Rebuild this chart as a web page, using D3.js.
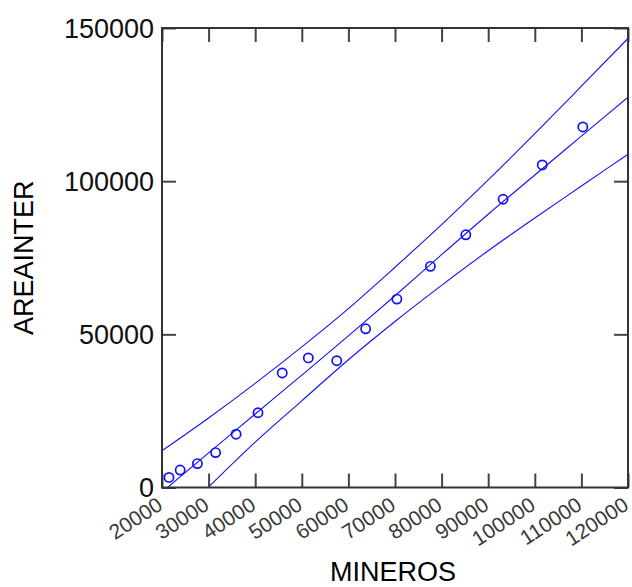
<!DOCTYPE html>
<html><head><meta charset="utf-8">
<script src="https://cdn.jsdelivr.net/npm/d3@7"></script>
<style>body{margin:0;background:#fff}svg{display:block}</style>
</head><body>
<script>
// Data
const mineros   = [21500, 23900, 27600, 31500, 35900, 40600, 45800, 51400, 57500, 63700, 70400, 77600, 85200, 93200, 101600, 110300];
const areainter = [3300, 5700, 7800, 11400, 17400, 24400, 37400, 42300, 41400, 51800, 61500, 72200, 82500, 94100, 105300, 117700];

const fitX   = [20000, 30000, 40000, 50000, 60000, 70000, 80000, 90000, 100000, 110000, 120000];
const fitY   = [-1500, 11300, 24000, 36700, 49500, 62600, 76000, 89200, 102000, 114700, 127400];
const upperX = [20000, 30000, 40000, 50000, 60000, 70000, 80000, 90000, 100000, 110000, 120000];
const upperY = [12000, 22700, 34000, 45900, 58400, 71900, 85800, 100400, 115500, 131000, 146600];
const lowerX = [29900, 40000, 50000, 60000, 70000, 80000, 90000, 100000, 110000, 120000];
const lowerY = [0, 14800, 28300, 41700, 54200, 66000, 77300, 88000, 98400, 108800];

const xTicks = [20000, 30000, 40000, 50000, 60000, 70000, 80000, 90000, 100000, 110000, 120000];
const yTicks = [0, 50000, 100000, 150000];
const xTitle = "MINEROS";
const yTitle = "AREAINTER";

const W = 632, H = 587;
const L = 162, R = 628, T = 28, B = 487.5;
const svg = d3.select("body").append("svg").attr("width", W).attr("height", H);
const x = d3.scaleLinear().domain([20000, 120000]).range([L, R]);
const y = d3.scaleLinear().domain([0, 150000]).range([B, T]);

const font = "'Liberation Sans', Arial, sans-serif";
const blue = "#1010ff";

svg.append("clipPath").attr("id", "clip").append("rect")
  .attr("x", L).attr("y", T).attr("width", R - L).attr("height", B - T);

const g = svg.append("g").attr("clip-path", "url(#clip)");
const line = d3.line().x(d => x(d[0])).y(d => y(d[1])).curve(d3.curveMonotoneX);
[[upperX, upperY], [fitX, fitY], [lowerX, lowerY]].forEach(([xs, ys]) => {
  g.append("path").datum(xs.map((v, i) => [v, ys[i]]))
    .attr("d", line).attr("fill", "none").attr("stroke", blue).attr("stroke-width", 1.1);
});

svg.append("g").selectAll("circle").data(mineros).join("circle")
  .attr("cx", d => x(d)).attr("cy", (d, i) => y(areainter[i]))
  .attr("r", 4.6).attr("fill", "none").attr("stroke", blue).attr("stroke-width", 1.7);

// Axes (ticks inside on all four sides)
const tl = 14, axCol = "#333";
const axB = svg.append("g").attr("transform", `translate(0,${B})`)
  .call(d3.axisBottom(x).tickValues(xTicks).tickSize(-tl).tickFormat(""));
const axT = svg.append("g").attr("transform", `translate(0,${T})`)
  .call(d3.axisTop(x).tickValues(xTicks).tickSize(-tl).tickFormat(""));
const axL = svg.append("g").attr("transform", `translate(${L},0)`)
  .call(d3.axisLeft(y).tickValues(yTicks).tickSize(-tl).tickFormat(""));
const axR = svg.append("g").attr("transform", `translate(${R},0)`)
  .call(d3.axisRight(y).tickValues(yTicks).tickSize(-tl).tickFormat(""));
[axB, axT, axL, axR].forEach(a => {
  a.select(".domain").remove();
  a.selectAll(".tick line").attr("stroke", "#444").attr("stroke-width", 2);
});
svg.append("rect").attr("x", L).attr("y", T).attr("width", R - L).attr("height", B - T)
  .attr("fill", "none").attr("stroke", axCol).attr("stroke-width", 2);

// Y tick labels
svg.append("g").selectAll("text").data(yTicks).join("text")
  .attr("x", L - 8).attr("y", d => y(d)).attr("dy", "0.36em")
  .attr("text-anchor", "end").attr("font-family", font).attr("font-size", 27)
  .attr("fill", "#111").text(d => d);

// X tick labels rotated
svg.append("g").selectAll("text").data(xTicks).join("text")
  .attr("transform", d => `translate(${x(d) + 2},${B + 21}) rotate(-33)`)
  .attr("text-anchor", "end").attr("font-family", font).attr("font-size", 21)
  .attr("fill", "#3a3a3a").text(d => d);

// Titles
svg.append("text").attr("x", (L + R) / 2 - 2).attr("y", 581)
  .attr("text-anchor", "middle").attr("font-family", font).attr("font-size", 27)
  .attr("fill", "#000").text(xTitle);
svg.append("text").attr("transform", `translate(33,${(T + B) / 2}) rotate(-90)`)
  .attr("text-anchor", "middle").attr("font-family", font).attr("font-size", 27)
  .attr("fill", "#000").text(yTitle);
</script>
</body></html>
